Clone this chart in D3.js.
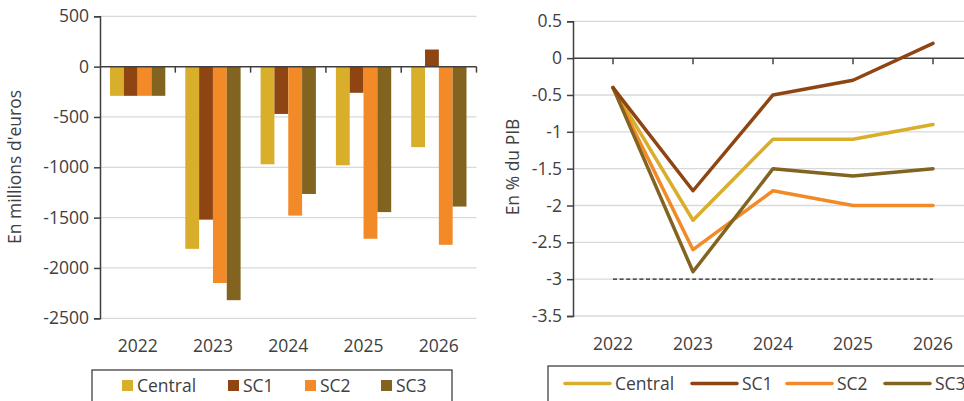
<!DOCTYPE html>
<html>
<head>
<meta charset="utf-8">
<script src="https://cdn.jsdelivr.net/npm/d3@7/dist/d3.min.js"></script>
<style>
  html, body { margin: 0; padding: 0; background: #fff; }
  svg { display: block; }
  text { font-family: "Open Sans", "DejaVu Sans", sans-serif; fill: #404040; }
</style>
</head>
<body>
<svg id="chart" width="964" height="401"></svg>
<script>
// Years and scenarios shared by both panels
const years = ["2022", "2023", "2024", "2025", "2026"];
const scenarios = ["Central", "SC1", "SC2", "SC3"];
const colors = ["#D9AE2A", "#8E4512", "#F28A28", "#826420"];

// Left panel: impact in millions of euros
const centralEuros = [-290, -1810, -970, -980, -800];
const sc1Euros = [-290, -1520, -470, -260, 170];
const sc2Euros = [-290, -2150, -1480, -1710, -1770];
const sc3Euros = [-290, -2320, -1265, -1445, -1390];
const eurosTicks = [500, 0, -500, -1000, -1500, -2000, -2500];

// Right panel: balance in % of GDP
const centralPib = [-0.4, -2.2, -1.1, -1.1, -0.9];
const sc1Pib = [-0.4, -1.8, -0.5, -0.3, 0.2];
const sc2Pib = [-0.4, -2.6, -1.8, -2.0, -2.0];
const sc3Pib = [-0.4, -2.9, -1.5, -1.6, -1.5];
const pibTicks = [0.5, 0, -0.5, -1, -1.5, -2, -2.5, -3, -3.5];
const thresholdPib = -3;

const eurosSeries = [centralEuros, sc1Euros, sc2Euros, sc3Euros];
const pibSeries = [centralPib, sc1Pib, sc2Pib, sc3Pib];

const svg = d3.select("#chart");
const axisColor = "#404040";
const gridColor = "#D9D9D9";
const fontSize = "17.5px";
const plain = d => String(d);

// ---------- Left panel: grouped bars ----------
{
  const x0 = 100, x1 = 476.5;
  const y = d3.scaleLinear().domain([-2500, 500]).range([318.3, 16.3]);
  const x = d3.scaleBand().domain(years).range([x0, x1]);
  const xs = d3.scaleBand().domain(scenarios).range([10, x.bandwidth() - 10]);
  const g = svg.append("g");

  // gridlines
  g.append("g").selectAll("line").data(eurosTicks.filter(t => t !== 0)).join("line")
    .attr("x1", x0).attr("x2", x1)
    .attr("y1", d => y(d)).attr("y2", d => y(d))
    .attr("stroke", gridColor).attr("stroke-width", 1.3);

  // bars
  const groups = g.append("g").selectAll("g").data(years).join("g")
    .attr("transform", d => `translate(${x(d)},0)`);
  groups.selectAll("rect")
    .data((yr, i) => scenarios.map((s, k) => ({ s, k, v: eurosSeries[k][i] })))
    .join("rect")
    .attr("x", d => xs(d.s))
    .attr("width", xs.bandwidth())
    .attr("y", d => y(Math.max(0, d.v)))
    .attr("height", d => Math.abs(y(d.v) - y(0)))
    .attr("fill", d => colors[d.k]);

  // y axis
  const yAxis = d3.axisLeft(y).tickValues(eurosTicks).tickSize(6).tickPadding(5).tickFormat(plain);
  const ya = g.append("g").attr("transform", `translate(${x0},0)`).call(yAxis);
  ya.select(".domain").attr("stroke", axisColor).attr("stroke-width", 1.5);
  ya.selectAll(".tick line").attr("stroke", axisColor).attr("stroke-width", 1.5);
  ya.selectAll(".tick text").style("font-size", fontSize).attr("fill", axisColor)
    .style("font-family", '"Open Sans", sans-serif');

  // category axis drawn at zero
  g.append("line").attr("x1", x0).attr("x2", x1).attr("y1", y(0)).attr("y2", y(0))
    .attr("stroke", axisColor).attr("stroke-width", 1.5);
  g.append("g").selectAll("line").data(years).join("line")
    .attr("x1", d => x(d) + x.bandwidth()).attr("x2", d => x(d) + x.bandwidth())
    .attr("y1", y(0)).attr("y2", y(0) + 6)
    .attr("stroke", axisColor).attr("stroke-width", 1.5);

  // category labels
  g.append("g").selectAll("text").data(years).join("text")
    .attr("x", d => x(d) + x.bandwidth() / 2).attr("y", 352)
    .attr("text-anchor", "middle").style("font-size", fontSize).text(d => d);

  // axis title
  g.append("text").attr("transform", "translate(21,167) rotate(-90)")
    .attr("text-anchor", "middle").style("font-size", fontSize)
    .text("En millions d'euros");

  // legend
  const lg = g.append("g");
  lg.append("rect").attr("x", 92).attr("y", 370).attr("width", 360).attr("height", 40)
    .attr("fill", "none").attr("stroke", axisColor).attr("stroke-width", 1.3);
  const lx = [122, 228, 305, 381];
  scenarios.forEach((s, k) => {
    lg.append("rect").attr("x", lx[k]).attr("y", 380).attr("width", 11).attr("height", 11)
      .attr("fill", colors[k]);
    lg.append("text").attr("x", lx[k] + 15).attr("y", 392).style("font-size", fontSize).text(s);
  });
}

// ---------- Right panel: lines ----------
{
  const x0 = 573, x1 = 973;
  const y = d3.scaleLinear().domain([-3.5, 0.5]).range([316, 21.3]);
  const x = d3.scalePoint().domain(years).range([x0, x1]).padding(0.5);
  const g = svg.append("g");

  // gridlines
  g.append("g").selectAll("line").data(pibTicks.filter(t => t !== 0)).join("line")
    .attr("x1", x0).attr("x2", x1)
    .attr("y1", d => y(d)).attr("y2", d => y(d))
    .attr("stroke", gridColor).attr("stroke-width", 1.3);

  // y axis
  const yAxis = d3.axisLeft(y).tickValues(pibTicks).tickSize(6).tickPadding(5).tickFormat(plain);
  const ya = g.append("g").attr("transform", `translate(${x0},0)`).call(yAxis);
  ya.select(".domain").attr("stroke", axisColor).attr("stroke-width", 1.5);
  ya.selectAll(".tick line").attr("stroke", axisColor).attr("stroke-width", 1.5);
  ya.selectAll(".tick text").style("font-size", fontSize).attr("fill", axisColor)
    .style("font-family", '"Open Sans", sans-serif');

  // zero axis with ticks under each year
  g.append("line").attr("x1", x0).attr("x2", x1).attr("y1", y(0)).attr("y2", y(0))
    .attr("stroke", axisColor).attr("stroke-width", 1.5);
  g.append("g").selectAll("line").data(years).join("line")
    .attr("x1", d => x(d)).attr("x2", d => x(d))
    .attr("y1", y(0)).attr("y2", y(0) + 6)
    .attr("stroke", axisColor).attr("stroke-width", 1.5);

  // -3% reference
  g.append("line")
    .attr("x1", x(years[0])).attr("x2", x(years[years.length - 1]))
    .attr("y1", y(thresholdPib)).attr("y2", y(thresholdPib))
    .attr("stroke", "#222").attr("stroke-width", 1.4).attr("stroke-dasharray", "4,2.6");

  // scenario lines
  const line = d3.line().x((d, i) => x(years[i])).y(d => y(d));
  [0, 2, 3, 1].forEach(k => {
    g.append("path").datum(pibSeries[k]).attr("d", line)
      .attr("fill", "none").attr("stroke", colors[k]).attr("stroke-width", 3.5)
      .attr("stroke-linejoin", "round").attr("stroke-linecap", "round");
  });

  // category labels
  g.append("g").selectAll("text").data(years).join("text")
    .attr("x", d => x(d)).attr("y", 350)
    .attr("text-anchor", "middle").style("font-size", fontSize).text(d => d);

  // axis title
  g.append("text").attr("transform", "translate(519,167) rotate(-90)")
    .attr("text-anchor", "middle").style("font-size", fontSize)
    .text("En % du PIB");

  // legend
  const lg = g.append("g");
  lg.append("rect").attr("x", 548).attr("y", 366).attr("width", 450).attr("height", 40)
    .attr("fill", "none").attr("stroke", axisColor).attr("stroke-width", 1.3);
  const lx = [565, 692, 787, 885];
  scenarios.forEach((s, k) => {
    lg.append("line").attr("x1", lx[k]).attr("x2", lx[k] + 45)
      .attr("y1", 383.5).attr("y2", 383.5)
      .attr("stroke", colors[k]).attr("stroke-width", 3.5).attr("stroke-linecap", "round");
    lg.append("text").attr("x", lx[k] + 50).attr("y", 390).style("font-size", fontSize).text(s);
  });
}
</script>
</body>
</html>
